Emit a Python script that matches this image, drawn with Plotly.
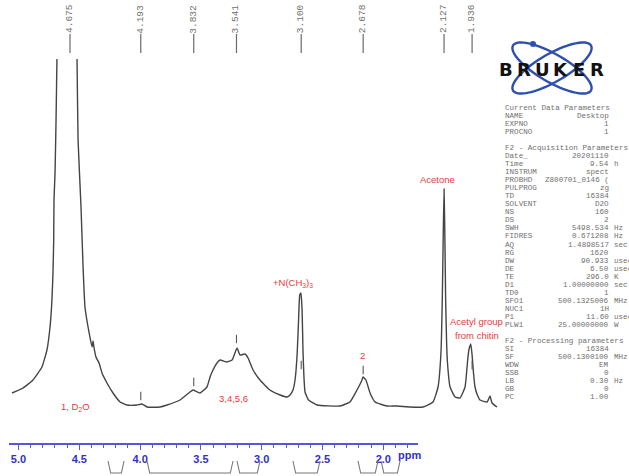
import numpy as np
import plotly.graph_objects as go

W, H = 629, 476

# ---------------- data ----------------
spec_ppm = [5.070, 4.995, 4.927, 4.866, 4.832, 4.811, 4.798, 4.791, 4.786, 4.784, 4.777, 4.770, 4.764,
            4.745, 4.700, 4.650, 4.627, 4.620, 4.600, 4.586, 4.573, 4.552, 4.525, 4.518, 4.512, 4.498,
            4.477, 4.457, 4.423, 4.382, 4.334, 4.287, 4.219, 4.185, 4.150, 4.062, 4.014, 3.926, 3.858,
            3.837, 3.789, 3.742, 3.721, 3.701, 3.674, 3.653, 3.606, 3.571, 3.537, 3.517, 3.483, 3.462,
            3.428, 3.381, 3.313, 3.244, 3.197, 3.176, 3.156, 3.142, 3.128, 3.118, 3.110, 3.102, 3.094,
            3.088, 3.082, 3.074, 3.050, 2.992, 2.836, 2.768, 2.720, 2.686, 2.679, 2.659, 2.631, 2.597,
            2.516, 2.447, 2.359, 2.270, 2.202, 2.168, 2.148, 2.139, 2.132, 2.127, 2.122, 2.116, 2.110,
            2.104, 2.086, 2.052, 2.018, 1.984, 1.966, 1.958, 1.945, 1.936, 1.927, 1.916, 1.900, 1.882,
            1.834, 1.814, 1.800, 1.766]
spec_int = [12, 17, 25, 38, 55, 78, 105, 132, 165, 205, 232, 285, 345,
            555, 735, 555, 345, 265, 198, 138, 98, 78, 58, 64, 58, 48,
            42, 32, 22, 12, 3, 0, 0, 1, -2, -2, 0, 5, 13,
            15, 12, 18, 28, 35, 42, 45, 43, 45, 57, 50, 51, 47,
            35, 25, 15, 10, 8, 10, 15, 25, 50, 85, 110, 112, 95,
            55, 30, 13, 5, 0, -1, 3, 15, 25, 28, 25, 12, 3,
            -1, -1, -2, -2, 3, 18, 52, 105, 175, 216, 175, 105, 65,
            43, 18, 8, 7, 18, 45, 55, 61, 50, 33, 18, 10, 5,
            3, 9, 2, -2]

peak_ppm = [4.675, 4.193, 3.832, 3.541, 3.100, 2.678, 2.127, 1.936]
peak_labels = ["4.675", "4.193", "3.832", "3.541", "3.100", "2.678", "2.127", "1.936"]
marker_ppm = [4.193, 3.832, 3.541, 3.100, 2.678, 1.936]
marker_int = [9, 23, 66, 40, 35, 40]

axis_ticks = [5.0, 4.5, 4.0, 3.5, 3.0, 2.5, 2.0]
axis_ticktext = ["5.0", "4.5", "4.0", "3.5", "3.0", "2.5", "2.0"]

integral_left = [4.264, 3.943, 3.203, 2.743, 2.208, 2.018]
integral_right = [4.132, 3.236, 3.014, 2.521, 2.044, 1.862]

assign_text = ["1, D<sub>2</sub>O", "3,4,5,6", "+N(CH<sub>3</sub>)<sub>3</sub>", "2", "Acetone",
               "Acetyl group", "from chitin"]
assign_ppm = [4.640, 3.560, 3.155, 2.680, 2.170, 1.905, 1.905]
assign_int = [-2, 7, 122, 50, 226, 84, 70]

param_labels = ["Current Data Parameters", "NAME", "EXPNO", "PROCNO", "",
                "F2 - Acquisition Parameters", "Date_", "Time", "INSTRUM", "PROBHD", "PULPROG",
                "TD", "SOLVENT", "NS", "DS", "SWH", "FIDRES", "AQ", "RG", "DW", "DE", "TE", "D1",
                "TD0", "SFO1", "NUC1", "P1", "PLW1", "",
                "F2 - Processing parameters", "SI", "SF", "WDW", "SSB", "LB", "GB", "PC"]
param_values = ["", "Desktop", "1", "1", "",
                "", "20201110", "9.54", "spect", "Z800701_0146 (", "zg",
                "16384", "D2O", "160", "2", "5498.534", "0.671208", "1.4898517", "1620", "90.933",
                "6.50", "296.0", "1.00000000",
                "1", "500.1325006", "1H", "11.60", "25.00000000", "",
                "", "16384", "500.1300100", "EM", "0", "0.30", "0", "1.00"]
param_units = ["", "", "", "", "",
               "", "", "h", "", "", "",
               "", "", "", "", "Hz", "Hz", "sec", "", "usec", "usec", "K", "sec",
               "", "MHz", "", "usec", "W", "",
               "", "", "MHz", "", "", "Hz", "", ""]


def px(x):
    return x / W


def py(y):
    return 1 - y / H


RED = "#e3403a"
BLUE_AX = "#5656d6"
BLUE_TXT = "#3030cc"
GREY_TXT = "#707070"

fig = go.Figure()

fig.add_trace(go.Scatter(x=spec_ppm, y=spec_int, mode="lines",
                         line=dict(color="#444444", width=1.4, shape="spline", smoothing=0.4),
                         hoverinfo="skip", showlegend=False))
fig.add_trace(go.Scatter(x=marker_ppm, y=marker_int, mode="markers",
                         marker=dict(symbol="line-ns", size=6, line=dict(color="#555", width=1.1)),
                         hoverinfo="skip", showlegend=False))
# dummy trace for the bottom ppm axis
fig.add_trace(go.Scatter(x=[3.0], y=[0.5], xaxis="x2", yaxis="y2", mode="markers",
                         marker=dict(opacity=0), hoverinfo="skip", showlegend=False))

ann = []
shapes = []

# top peak labels
for p, t in zip(peak_ppm, peak_labels):
    ann.append(dict(x=p, y=py(19), xref="x", yref="paper", text=t, textangle=-90,
                    showarrow=False, xanchor="center", yanchor="middle",
                    font=dict(family="Liberation Mono", size=9.5, color=GREY_TXT)))
    shapes.append(dict(type="line", xref="x", yref="paper", x0=p, x1=p, y0=py(34), y1=py(53),
                       line=dict(color="#6a6a6a", width=1.2)))

# assignment labels
for t, p, v in zip(assign_text, assign_ppm, assign_int):
    ann.append(dict(x=p, y=v, xref="x", yref="y", text=t, showarrow=False,
                    xanchor="center", yanchor="middle",
                    font=dict(family="Liberation Sans", size=9.5, color=RED)))

# ppm unit label
ann.append(dict(x=px(409), y=py(455), xref="paper", yref="paper", text="ppm", showarrow=False,
                xanchor="center", yanchor="middle",
                font=dict(family="Liberation Sans", size=11, color=BLUE_TXT, weight="bold")))

# integral brackets
d = 0.022
yt, yb = py(461), py(473)
for a, b in zip(integral_left, integral_right):
    shapes.append(dict(type="path", xref="x2", yref="paper",
                       path=f"M {a},{yt} L {a - d},{yb} L {b + d},{yb} L {b},{yt}",
                       line=dict(color="#777", width=1.1)))

# parameter block
y0, dy = 108, 8.03
mono = dict(family="Liberation Mono", size=7.6, color=GREY_TXT)
for i, (lab, val, unit) in enumerate(zip(param_labels, param_values, param_units)):
    yy = py(y0 + i * dy)
    if lab:
        ann.append(dict(x=px(503), y=yy, xref="paper", yref="paper", text=lab, showarrow=False,
                        xanchor="left", yanchor="middle", font=mono))
    if val:
        ann.append(dict(x=px(611), y=yy, xref="paper", yref="paper", text=val, showarrow=False,
                        xanchor="right", yanchor="middle", font=mono))
    if unit:
        ann.append(dict(x=px(612), y=yy, xref="paper", yref="paper", text=unit, showarrow=False,
                        xanchor="left", yanchor="middle", font=mono))

# Bruker logo
cx, cy, a_, b_ = 552, 68, 45, 14
t = np.linspace(0, 2 * np.pi, 80)
for ang in (30, -30):
    th = np.deg2rad(ang)
    xs = cx + a_ * np.cos(t) * np.cos(th) - b_ * np.sin(t) * np.sin(th)
    ys = cy + a_ * np.cos(t) * np.sin(th) + b_ * np.sin(t) * np.cos(th)
    path = "M " + " L ".join(f"{px(x):.5f},{py(y):.5f}" for x, y in zip(xs, ys)) + " Z"
    shapes.append(dict(type="path", xref="paper", yref="paper", path=path,
                       line=dict(color="#2f4fb0", width=2.4)))
shapes.append(dict(type="circle", xref="paper", yref="paper",
                   x0=px(530), x1=px(536), y0=py(47), y1=py(41),
                   fillcolor="#2f4fb0", line=dict(color="#2f4fb0", width=0)))
for i, ch in enumerate("BRUKER"):
    ann.append(dict(x=px(505.5 + i * 18.3), y=py(69), xref="paper", yref="paper", text=ch,
                    showarrow=False, xanchor="center", yanchor="middle",
                    font=dict(family="DejaVu Sans", size=18, color="#111", weight="bold")))

fig.update_layout(
    width=W, height=H, margin=dict(l=0, r=0, t=0, b=0),
    paper_bgcolor="white", plot_bgcolor="rgba(0,0,0,0)",
    xaxis=dict(visible=False, range=[4.675 + 70 / 146.8, 4.675 - 559 / 146.8], domain=[0, 1],
               anchor="y"),
    yaxis=dict(visible=False, range=[-15, 346], domain=[py(420), py(59)]),
    xaxis2=dict(anchor="y2", domain=[px(9), px(418)],
                range=[5 + 9.5 / 121.6, 5 - 399.5 / 121.6],
                showline=True, linecolor=BLUE_AX, linewidth=2, showgrid=False, zeroline=False,
                ticks="outside", ticklen=5, tickwidth=1.2, tickcolor=BLUE_AX,
                tickvals=axis_ticks, ticktext=axis_ticktext,
                tickfont=dict(family="Liberation Sans", size=11, color=BLUE_TXT, weight="bold"),
                minor=dict(dtick=0.1, tick0=0, ticks="outside", ticklen=3, tickcolor=BLUE_AX,
                           tickwidth=1)),
    yaxis2=dict(visible=False, domain=[py(443), py(440)], range=[0, 1]),
    annotations=ann, shapes=shapes, showlegend=False,
)

fig.write_html("out.html")
